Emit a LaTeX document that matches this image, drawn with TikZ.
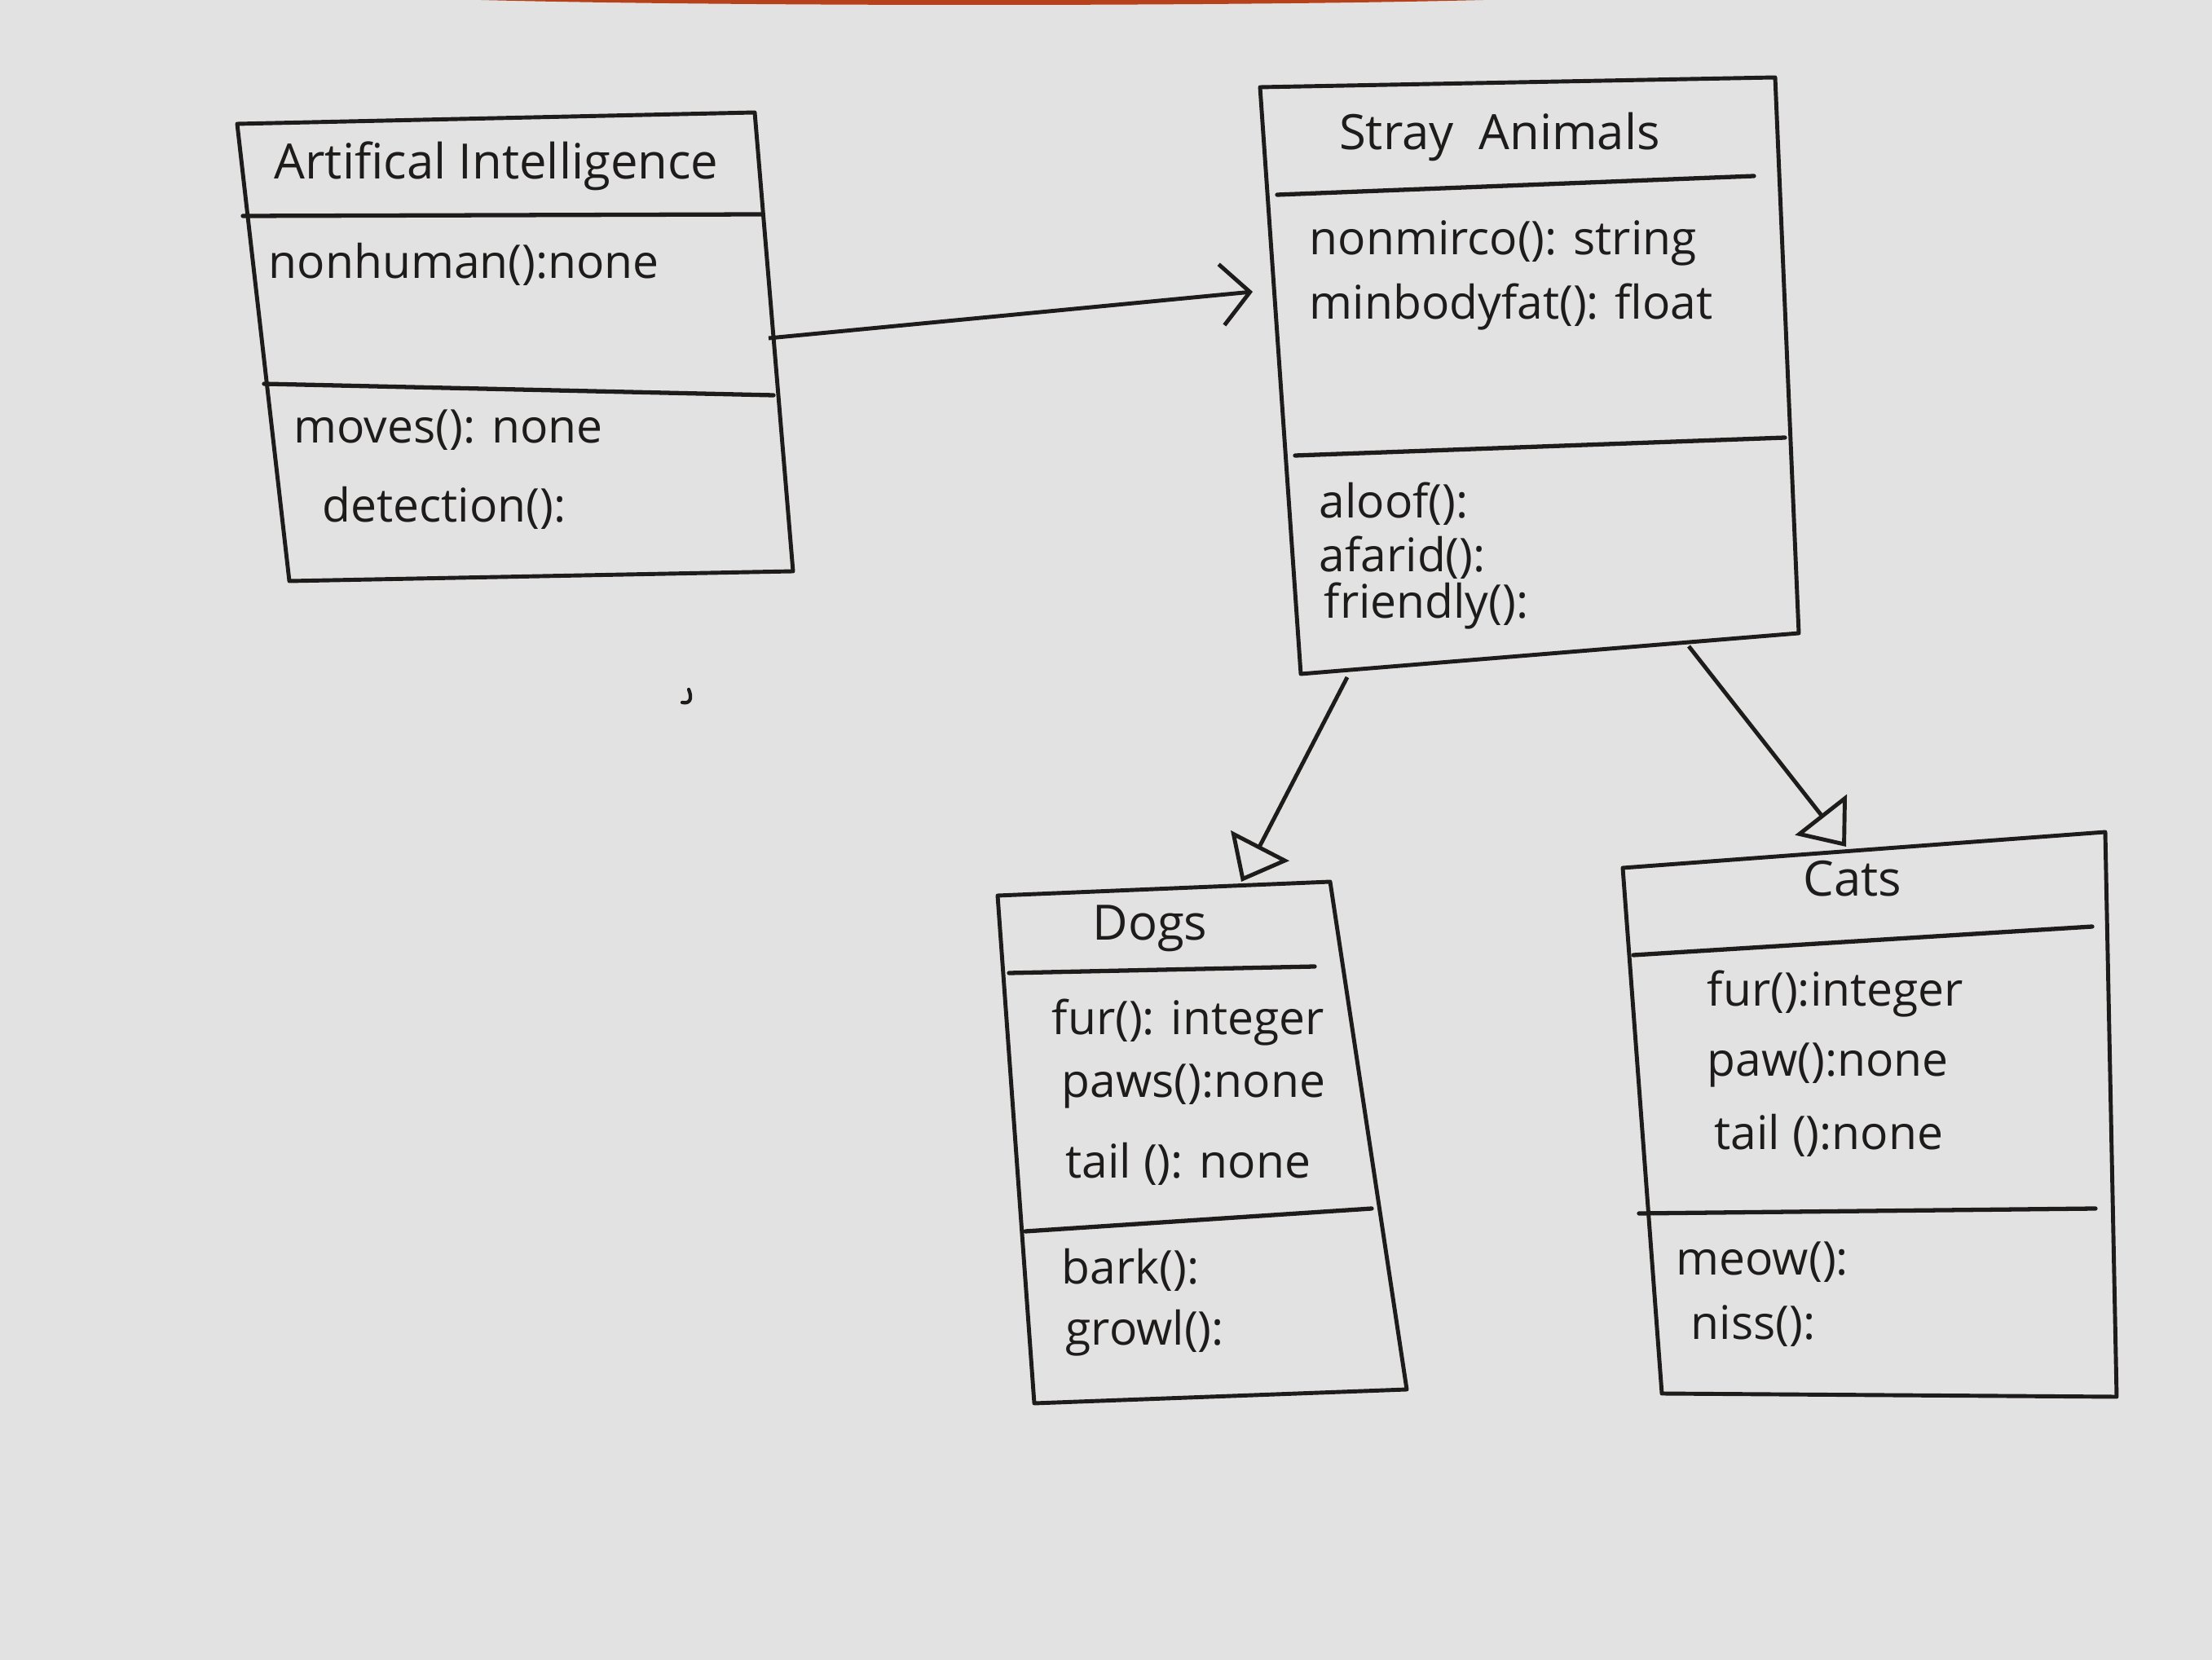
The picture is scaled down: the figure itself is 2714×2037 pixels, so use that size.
\documentclass[tikz,border=0pt]{standalone}
\usepackage{fontspec}
\setmainfont{Open Sans}
\usetikzlibrary{arrows.meta}
\definecolor{paper}{HTML}{E2E2E2}
\definecolor{ink}{HTML}{1E1B1B}
\definecolor{edge}{HTML}{B5421A}
\tikzset{
  box/.style={draw=ink, line width=1.4pt, line join=round},
  divider/.style={draw=ink, line width=1.5pt, line cap=round},
  title/.style={text=ink, font=\fontsize{17}{20}\selectfont, inner sep=0pt},
  member/.style={text=ink, font=\fontsize{16.2}{19}\selectfont, inner sep=0pt, anchor=west},
  assoc/.style={draw=ink, line width=1.4pt, -{Straight Barb[length=0.35cm, width=0.75cm, line width=1.4pt]}},
  inherit/.style={draw=ink, line width=1.4pt, -{Triangle[open, length=0.5cm, width=0.8cm, line width=1.4pt]}},
}
\begin{document}
\begin{tikzpicture}[x=0.01cm, y=-0.01cm]
\useasboundingbox (0,0) rectangle (2714,2037);
\fill[paper] (0,0) rectangle (2714,2037);
\fill[edge] (590,0) .. controls (900,8) and (1500,8) .. (1820,0) -- cycle;

% ---- Artifical Intelligence ----
\coordinate (ai-tl) at (291,152);
\coordinate (ai-tr) at (926,138);
\coordinate (ai-br) at (973,701);
\coordinate (ai-bl) at (355,713);
\coordinate (ai-h1) at (298,265);
\coordinate (ai-h2) at (935,263);
\coordinate (ai-m1) at (324,471);
\coordinate (ai-m2) at (949,485);
\draw[box] (ai-tl) -- (ai-tr) -- (ai-br) -- (ai-bl) -- cycle;
\draw[divider] (ai-h1) -- (ai-h2);
\draw[divider] (ai-m1) -- (ai-m2);
\node[title] (ai-title) at (609,204) {Artifical Intelligence};
\node[member] (ai-a1) at (329,324) {nonhuman():none};
\node[member] (ai-o1) at (360,528) {moves(): none};
\node[member] (ai-o2) at (395,623) {detection():};

% ---- Stray Animals ----
\coordinate (sa-tl) at (1546,107);
\coordinate (sa-tr) at (2178,95);
\coordinate (sa-br) at (2207,777);
\coordinate (sa-bl) at (1596,827);
\coordinate (sa-h1) at (1567,239);
\coordinate (sa-h2) at (2152,216);
\coordinate (sa-m1) at (1589,559);
\coordinate (sa-m2) at (2190,537);
\draw[box] (sa-tl) -- (sa-tr) -- (sa-br) -- (sa-bl) -- cycle;
\draw[divider] (sa-h1) -- (sa-h2);
\draw[divider] (sa-m1) -- (sa-m2);
\node[title] (sa-title) at (1840,168) {Stray\ \ Animals};
\node[member] (sa-a1) at (1606,298) {nonmirco(): string};
\node[member] (sa-a2) at (1606,377) {minbodyfat(): float};
\node[member] (sa-o1) at (1618,618) {aloof():};
\node[member] (sa-o2) at (1618,684) {afarid():};
\node[member] (sa-o3) at (1624,744) {friendly():};

% ---- Dogs ----
\coordinate (dg-tl) at (1224,1099);
\coordinate (dg-tr) at (1632,1082);
\coordinate (dg-br) at (1726,1705);
\coordinate (dg-bl) at (1269,1722);
\coordinate (dg-h1) at (1238,1194);
\coordinate (dg-h2) at (1613,1186);
\coordinate (dg-m1) at (1258,1511);
\coordinate (dg-m2) at (1683,1483);
\draw[box] (dg-tl) -- (dg-tr) -- (dg-br) -- (dg-bl) -- cycle;
\draw[divider] (dg-h1) -- (dg-h2);
\draw[divider] (dg-m1) -- (dg-m2);
\node[title] (dg-title) at (1411,1139) {Dogs};
\node[member] (dg-a1) at (1290,1255) {fur(): integer};
\node[member] (dg-a2) at (1302,1333) {paws():none};
\node[member] (dg-a3) at (1307,1428) {tail (): none};
\node[member] (dg-o1) at (1302,1558) {bark():};
\node[member] (dg-o2) at (1307,1636) {growl():};

% ---- Cats ----
\coordinate (ct-tl) at (1991,1065);
\coordinate (ct-tr) at (2583,1021);
\coordinate (ct-br) at (2597,1714);
\coordinate (ct-bl) at (2039,1710);
\coordinate (ct-h1) at (2004,1172);
\coordinate (ct-h2) at (2567,1137);
\coordinate (ct-m1) at (2011,1489);
\coordinate (ct-m2) at (2571,1483);
\draw[box] (ct-tl) -- (ct-tr) -- (ct-br) -- (ct-bl) -- cycle;
\draw[divider] (ct-h1) -- (ct-h2);
\draw[divider] (ct-m1) -- (ct-m2);
\node[title] (ct-title) at (2273,1078) {Cats};
\node[member] (ct-a1) at (2094,1220) {fur():integer};
\node[member] (ct-a2) at (2094,1307) {paw():none};
\node[member] (ct-a3) at (2103,1393) {tail ():none};
\node[member] (ct-o1) at (2056,1549) {meow():};
\node[member] (ct-o2) at (2074,1627) {niss():};

% ---- connectors ----
\coordinate (ai-out) at (943,415);
\coordinate (sa-in) at (1537,358);
\draw[assoc] (ai-out) -- (sa-in);

\coordinate (sa-out1) at (1653,831);
\coordinate (dg-in) at (1523,1082);
\draw[inherit] (sa-out1) -- (dg-in);

\coordinate (sa-out2) at (2072,793);
\coordinate (ct-in) at (2265,1039);
\draw[inherit] (sa-out2) -- (ct-in);

% stray pen mark
\draw[ink, line width=1.2pt, line cap=round] (845,846) .. controls (850,858) and (846,864) .. (837,862);
\end{tikzpicture}
\end{document}
